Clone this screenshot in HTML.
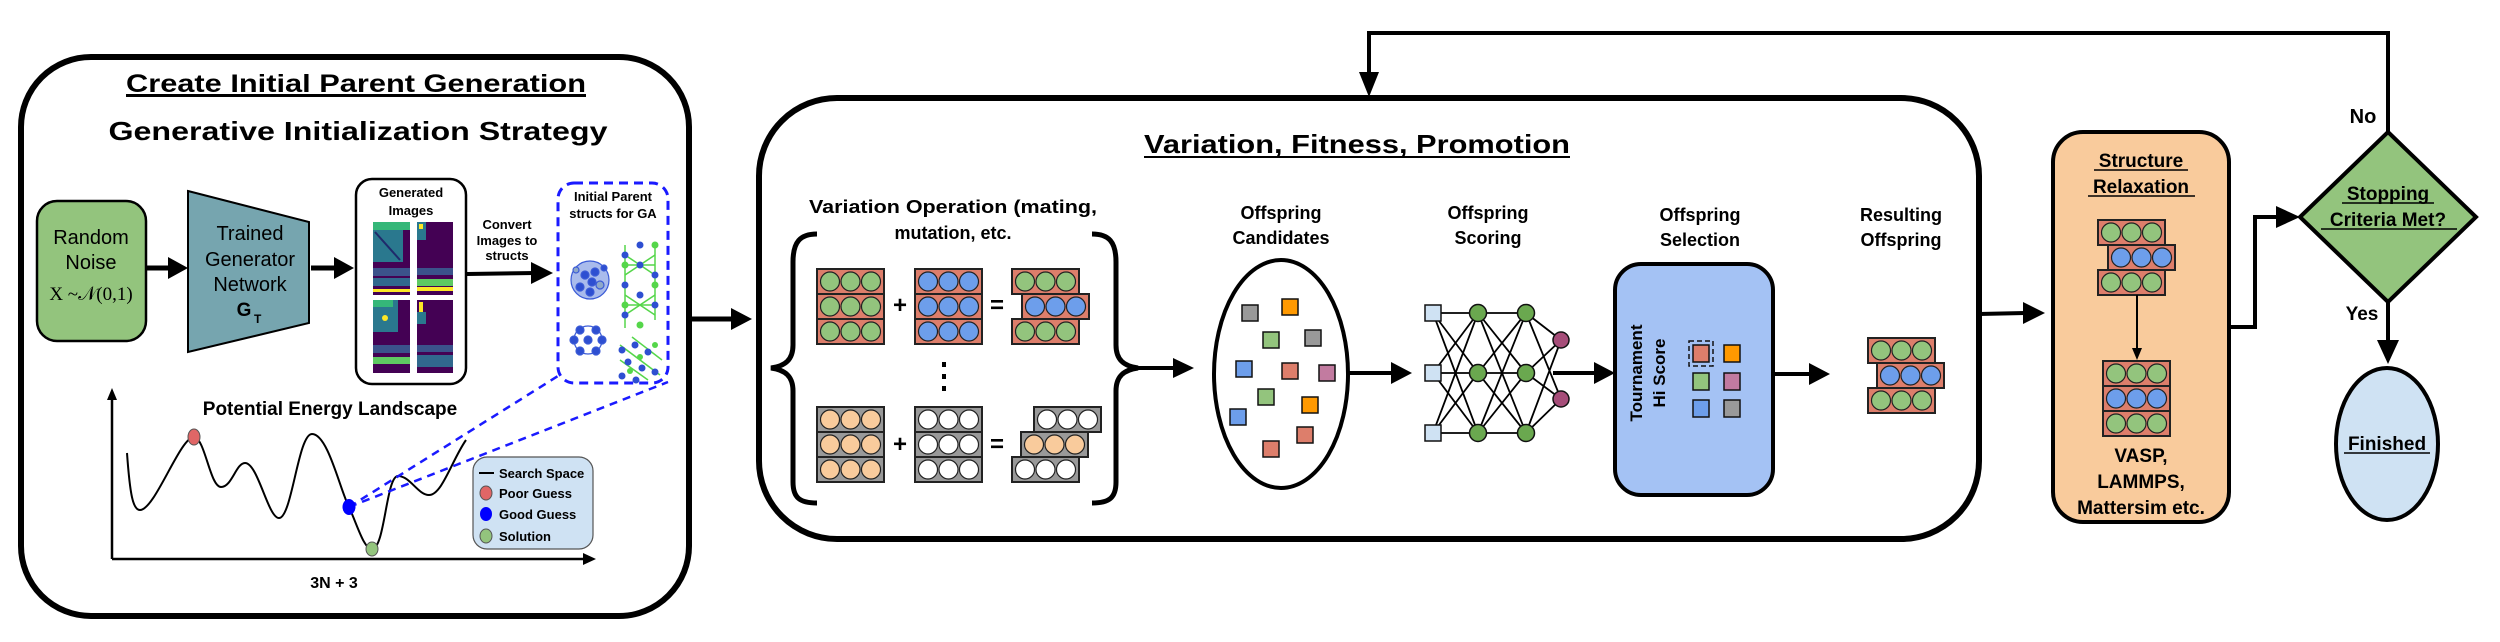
<!DOCTYPE html>
<html><head><meta charset="utf-8"><style>
html,body{margin:0;padding:0;background:#fff;}
svg{display:block;font-family:"Liberation Sans",Arial,sans-serif;}
.b{font-weight:bold;}
</style></head><body>
<svg width="2500" height="642" viewBox="0 0 2500 642" xmlns="http://www.w3.org/2000/svg">
<defs>
<marker id="ah" markerWidth="10" markerHeight="10" refX="9" refY="5" orient="auto" markerUnits="userSpaceOnUse">
</marker>
<g id="rg"><rect width="67" height="25" fill="#dd7e6b" stroke="#222" stroke-width="2"/><circle cx="13" cy="12.5" r="9.5" fill="#93c47d" stroke="#222" stroke-width="1.2"/><circle cx="33.5" cy="12.5" r="9.5" fill="#93c47d" stroke="#222" stroke-width="1.2"/><circle cx="54" cy="12.5" r="9.5" fill="#93c47d" stroke="#222" stroke-width="1.2"/></g>
<g id="rb"><rect width="67" height="25" fill="#dd7e6b" stroke="#222" stroke-width="2"/><circle cx="13" cy="12.5" r="9.5" fill="#6d9eeb" stroke="#222" stroke-width="1.2"/><circle cx="33.5" cy="12.5" r="9.5" fill="#6d9eeb" stroke="#222" stroke-width="1.2"/><circle cx="54" cy="12.5" r="9.5" fill="#6d9eeb" stroke="#222" stroke-width="1.2"/></g>
<g id="go"><rect width="67" height="25" fill="#999" stroke="#222" stroke-width="2"/><circle cx="13" cy="12.5" r="9.5" fill="#f9cb9c" stroke="#222" stroke-width="1.2"/><circle cx="33.5" cy="12.5" r="9.5" fill="#f9cb9c" stroke="#222" stroke-width="1.2"/><circle cx="54" cy="12.5" r="9.5" fill="#f9cb9c" stroke="#222" stroke-width="1.2"/></g>
<g id="gw"><rect width="67" height="25" fill="#999" stroke="#222" stroke-width="2"/><circle cx="13" cy="12.5" r="9.5" fill="#fff" stroke="#222" stroke-width="1.2"/><circle cx="33.5" cy="12.5" r="9.5" fill="#fff" stroke="#222" stroke-width="1.2"/><circle cx="54" cy="12.5" r="9.5" fill="#fff" stroke="#222" stroke-width="1.2"/></g>
</defs>

<!-- ============ LEFT BOX ============ -->
<rect x="21" y="57" width="668" height="559" rx="70" fill="#fff" stroke="#000" stroke-width="6"/>
<text x="356" y="92" font-size="25" class="b" text-anchor="middle" textLength="460" lengthAdjust="spacingAndGlyphs" text-decoration="underline">Create Initial Parent Generation</text>
<line x1="126" y1="96" x2="586" y2="96" stroke="#000" stroke-width="2"/>
<text x="358" y="140" font-size="26" class="b" text-anchor="middle" textLength="499" lengthAdjust="spacingAndGlyphs">Generative Initialization Strategy</text>

<!-- Random noise -->
<rect x="37" y="201" width="109" height="140" rx="20" fill="#93c47d" stroke="#000" stroke-width="2.5"/>
<text x="91" y="244" font-size="20" text-anchor="middle">Random</text>
<text x="91" y="269" font-size="20" text-anchor="middle">Noise</text>
<text x="91" y="300" font-size="19" text-anchor="middle" font-family="Liberation Serif,serif">X ~𝒩(0,1)</text>
<!-- arrow 1 -->
<line x1="146" y1="268" x2="172" y2="268" stroke="#000" stroke-width="5"/>
<polygon points="168,257 188,268 168,279" fill="#000"/>
<!-- Trapezoid -->
<polygon points="188,191 309,222 309,323 188,352" fill="#76a5af" stroke="#000" stroke-width="2"/>
<text x="250" y="240" font-size="20" text-anchor="middle">Trained</text>
<text x="250" y="266" font-size="20" text-anchor="middle">Generator</text>
<text x="250" y="291" font-size="20" text-anchor="middle">Network</text>
<text x="244" y="316" font-size="19" class="b" text-anchor="middle">G</text><text x="254" y="323" font-size="12" class="b">T</text>
<!-- arrow 2 -->
<line x1="311" y1="268" x2="338" y2="268" stroke="#000" stroke-width="5"/>
<polygon points="334,257 354,268 334,279" fill="#000"/>
<!-- Generated images -->
<rect x="356" y="179" width="110" height="205" rx="16" fill="#fff" stroke="#000" stroke-width="2.5"/>
<text x="411" y="197" font-size="13" class="b" text-anchor="middle">Generated</text>
<text x="411" y="215" font-size="13" class="b" text-anchor="middle">Images</text>
<g>
<rect x="373" y="222" width="37" height="73" fill="#440154"/>
<rect x="373" y="222" width="30" height="40" fill="#2a788e"/>
<rect x="373" y="222" width="37" height="8" fill="#35b779"/>
<line x1="375" y1="232" x2="400" y2="260" stroke="#1f2a6b" stroke-width="2"/>
<rect x="373" y="268" width="37" height="8" fill="#3b528b"/>
<rect x="373" y="278" width="37" height="8" fill="#31688e"/>
<rect x="373" y="289" width="37" height="3" fill="#fde725"/>
<rect x="417" y="222" width="36" height="73" fill="#440154"/>
<rect x="417" y="222" width="9" height="18" fill="#2a788e"/>
<rect x="419" y="224" width="4" height="5" fill="#fde725"/>
<rect x="417" y="268" width="36" height="7" fill="#3b528b"/>
<rect x="417" y="279" width="36" height="7" fill="#5ec962"/>
<rect x="417" y="287" width="36" height="4" fill="#fde725"/>
<rect x="373" y="300" width="37" height="73" fill="#440154"/>
<rect x="373" y="300" width="25" height="32" fill="#2a788e"/>
<rect x="373" y="300" width="20" height="7" fill="#35b779"/>
<circle cx="385" cy="318" r="3" fill="#fde725"/>
<rect x="373" y="345" width="37" height="8" fill="#3b528b"/>
<rect x="373" y="357" width="37" height="7" fill="#5ec962"/>
<rect x="417" y="300" width="36" height="73" fill="#440154"/>
<rect x="419" y="302" width="4" height="10" fill="#fde725"/>
<rect x="417" y="312" width="9" height="12" fill="#2a788e"/>
<rect x="417" y="345" width="36" height="7" fill="#3b528b"/>
<rect x="417" y="355" width="36" height="12" fill="#31688e"/>
</g>
<!-- Convert text -->
<text x="507" y="229" font-size="13" class="b" text-anchor="middle">Convert</text>
<text x="507" y="245" font-size="13" class="b" text-anchor="middle">Images to</text>
<text x="507" y="260" font-size="13" class="b" text-anchor="middle">structs</text>
<line x1="467" y1="274" x2="535" y2="273" stroke="#000" stroke-width="4"/>
<polygon points="531,262 553,273 531,284" fill="#000"/>
<!-- dashed box -->
<rect x="558" y="183" width="110" height="200" rx="16" fill="#fff" stroke="#1a1aff" stroke-width="3" stroke-dasharray="9,6"/>
<text x="613" y="201" font-size="13" class="b" text-anchor="middle">Initial Parent</text>
<text x="613" y="218" font-size="13" class="b" text-anchor="middle">structs for GA</text>
<!-- crystals -->
<g stroke="#3b5bd6" stroke-width="1.2">
<circle cx="590" cy="280" r="19" fill="#6f8de0" fill-opacity="0.6"/>
<circle cx="585" cy="275" r="4" fill="#2e4fd1"/><circle cx="595" cy="272" r="4" fill="#2e4fd1"/><circle cx="580" cy="287" r="4" fill="#2e4fd1"/><circle cx="600" cy="285" r="4" fill="#8ea8c8"/><circle cx="590" cy="292" r="4" fill="#2e4fd1"/><circle cx="576" cy="270" r="3" fill="#8ea8c8"/><circle cx="604" cy="268" r="3" fill="#2e4fd1"/><circle cx="592" cy="282" r="4" fill="#2e4fd1"/>
<circle cx="588" cy="340" r="14" fill="none"/>
<circle cx="580" cy="330" r="4" fill="#2e4fd1"/><circle cx="596" cy="330" r="4" fill="#2e4fd1"/><circle cx="574" cy="340" r="4" fill="#2e4fd1"/><circle cx="602" cy="340" r="4" fill="#2e4fd1"/><circle cx="580" cy="351" r="4" fill="#2e4fd1"/><circle cx="596" cy="351" r="4" fill="#2e4fd1"/><circle cx="588" cy="340" r="4" fill="#2e4fd1"/>
</g>
<g stroke="#55d64a" stroke-width="1.5">
<line x1="625" y1="245" x2="625" y2="328"/><line x1="655" y1="245" x2="655" y2="320"/>
<line x1="625" y1="255" x2="655" y2="275"/><line x1="625" y1="275" x2="655" y2="255"/><line x1="625" y1="295" x2="655" y2="315"/><line x1="625" y1="315" x2="655" y2="295"/>
<line x1="625" y1="265" x2="655" y2="265"/><line x1="625" y1="305" x2="655" y2="305"/>
</g>
<g fill="#2e4fd1"><circle cx="625" cy="255" r="3.5"/><circle cx="640" cy="265" r="3.5"/><circle cx="655" cy="275" r="3.5"/><circle cx="625" cy="285" r="3.5"/><circle cx="640" cy="295" r="3.5"/><circle cx="655" cy="305" r="3.5"/><circle cx="625" cy="315" r="3.5"/><circle cx="640" cy="245" r="3.5"/></g>
<g fill="#55d64a"><circle cx="655" cy="245" r="3.5"/><circle cx="625" cy="265" r="3.5"/><circle cx="655" cy="285" r="3.5"/><circle cx="625" cy="305" r="3.5"/><circle cx="640" cy="325" r="3.5"/></g>
<g stroke="#55d64a" stroke-width="1.5"><line x1="620" y1="345" x2="660" y2="375"/><line x1="620" y1="360" x2="648" y2="380"/><line x1="632" y1="337" x2="662" y2="360"/></g>
<g fill="#2e4fd1"><circle cx="622" cy="350" r="3.5"/><circle cx="635" cy="345" r="3.5"/><circle cx="648" cy="352" r="3.5"/><circle cx="628" cy="362" r="3.5"/><circle cx="642" cy="368" r="3.5"/><circle cx="655" cy="372" r="3.5"/><circle cx="622" cy="376" r="3.5"/><circle cx="636" cy="380" r="3.5"/></g>
<g fill="#55d64a"><circle cx="640" cy="357" r="3"/><circle cx="655" cy="345" r="3"/><circle cx="630" cy="371" r="3"/></g>

<!-- Potential energy plot -->
<line x1="112" y1="559" x2="112" y2="398" stroke="#000" stroke-width="2.5"/>
<polygon points="107,400 112,388 117,400" fill="#000"/>
<line x1="112" y1="559" x2="585" y2="559" stroke="#000" stroke-width="2.5"/>
<polygon points="583,553 596,559 583,565" fill="#000"/>
<text x="330" y="415" font-size="19" class="b" text-anchor="middle">Potential Energy Landscape</text>
<path d="M127,453 C130,495 133,510 140,510 C155,510 180,437 194,437 C205,438 210,487 221,487 C232,487 236,463 245,463 C258,463 268,518 279,518 C292,518 298,434 312,434 C328,434 340,490 349,507 C358,527 364,549 372,549 C385,549 386,476 398,476 C410,476 418,495 429,495 C442,495 452,460 466,440" fill="none" stroke="#000" stroke-width="2"/>
<line x1="349" y1="507" x2="558" y2="376" stroke="#1a1aff" stroke-width="2.5" stroke-dasharray="8,6"/>
<line x1="349" y1="507" x2="668" y2="382" stroke="#1a1aff" stroke-width="2.5" stroke-dasharray="8,6"/>
<ellipse cx="194" cy="437" rx="6" ry="8" fill="#e06666" stroke="#555" stroke-width="1"/>
<ellipse cx="349" cy="507" rx="6.5" ry="8" fill="#0000ff"/>
<ellipse cx="372" cy="549" rx="6" ry="7" fill="#93c47d" stroke="#555" stroke-width="1"/>
<rect x="473" y="457" width="120" height="92" rx="14" fill="#cfe2f3" stroke="#555" stroke-width="1.2"/>
<line x1="479" y1="473" x2="494" y2="473" stroke="#000" stroke-width="2"/>
<text x="499" y="478" font-size="13" class="b">Search Space</text>
<ellipse cx="486" cy="493" rx="6" ry="7" fill="#e06666" stroke="#555" stroke-width="1"/>
<text x="499" y="498" font-size="13" class="b">Poor Guess</text>
<ellipse cx="486" cy="514" rx="6" ry="7" fill="#0000ff"/>
<text x="499" y="519" font-size="13" class="b">Good Guess</text>
<ellipse cx="486" cy="536" rx="6" ry="7" fill="#93c47d" stroke="#555" stroke-width="1"/>
<text x="499" y="541" font-size="13" class="b">Solution</text>
<text x="334" y="588" font-size="16" class="b" text-anchor="middle">3N + 3</text>

<!-- arrow left box -> middle -->
<line x1="689" y1="319" x2="735" y2="319" stroke="#000" stroke-width="5"/>
<polygon points="731,308 752,319 731,330" fill="#000"/>

<!-- ============ MIDDLE BOX ============ -->
<rect x="759" y="98" width="1220" height="441" rx="78" fill="#fff" stroke="#000" stroke-width="6"/>
<text x="1357" y="153" font-size="26" class="b" text-anchor="middle" textLength="426" lengthAdjust="spacingAndGlyphs">Variation, Fitness, Promotion</text>
<line x1="1144" y1="157" x2="1570" y2="157" stroke="#000" stroke-width="2"/>

<!-- feedback loop -->
<polyline points="2388,132 2388,33 1369,33 1369,80" fill="none" stroke="#000" stroke-width="4"/>
<polygon points="1359,72 1379,72 1369,97" fill="#000"/>
<text x="2363" y="123" font-size="20" class="b" text-anchor="middle">No</text>

<text x="953" y="213" font-size="18" class="b" text-anchor="middle" textLength="288" lengthAdjust="spacingAndGlyphs">Variation Operation (mating,</text>
<text x="953" y="239" font-size="18" class="b" text-anchor="middle">mutation, etc.</text>
<!-- braces -->
<path d="M817,234 C800,234 793,242 793,262 L793,345 C793,360 785,366 771,368 C785,370 793,376 793,391 L793,482 C793,498 800,503 817,503" fill="none" stroke="#000" stroke-width="5"/>
<path d="M1092,234 C1109,234 1116,242 1116,262 L1116,345 C1116,360 1124,366 1138,368 C1124,370 1116,376 1116,391 L1116,482 C1116,498 1109,503 1092,503" fill="none" stroke="#000" stroke-width="5"/>
<!-- top group -->
<use href="#rg" x="817" y="269"/><use href="#rg" x="817" y="294"/><use href="#rg" x="817" y="319"/>
<use href="#rb" x="915" y="269"/><use href="#rb" x="915" y="294"/><use href="#rb" x="915" y="319"/>
<use href="#rg" x="1012" y="269"/><use href="#rb" x="1022" y="294"/><use href="#rg" x="1012" y="319"/>
<text x="900" y="313" font-size="24" class="b" text-anchor="middle">+</text>
<text x="997" y="313" font-size="24" class="b" text-anchor="middle">=</text>
<rect x="942" y="362" width="4" height="5" fill="#000"/><rect x="942" y="374" width="4" height="5" fill="#000"/><rect x="942" y="386" width="4" height="5" fill="#000"/>
<!-- bottom group -->
<use href="#go" x="817" y="407"/><use href="#go" x="817" y="432"/><use href="#go" x="817" y="457"/>
<use href="#gw" x="915" y="407"/><use href="#gw" x="915" y="432"/><use href="#gw" x="915" y="457"/>
<use href="#gw" x="1034" y="407"/><use href="#go" x="1021" y="432"/><use href="#gw" x="1012" y="457"/>
<text x="900" y="452" font-size="24" class="b" text-anchor="middle">+</text>
<text x="997" y="452" font-size="24" class="b" text-anchor="middle">=</text>
<!-- arrow brace -> ellipse -->
<line x1="1138" y1="368" x2="1176" y2="368" stroke="#000" stroke-width="4"/>
<polygon points="1173,358 1194,368 1173,378" fill="#000"/>

<!-- candidates -->
<text x="1281" y="219" font-size="18" class="b" text-anchor="middle">Offspring</text>
<text x="1281" y="244" font-size="18" class="b" text-anchor="middle">Candidates</text>
<ellipse cx="1281" cy="374" rx="67" ry="114" fill="#fff" stroke="#000" stroke-width="4"/>
<g stroke="#111" stroke-width="1.5">
<rect x="1242" y="305" width="16" height="16" fill="#999"/>
<rect x="1282" y="299" width="16" height="16" fill="#ff9900"/>
<rect x="1263" y="332" width="16" height="16" fill="#93c47d"/>
<rect x="1305" y="330" width="16" height="16" fill="#999"/>
<rect x="1236" y="361" width="16" height="16" fill="#6d9eeb"/>
<rect x="1282" y="363" width="16" height="16" fill="#dd7e6b"/>
<rect x="1319" y="365" width="16" height="16" fill="#c27ba0"/>
<rect x="1258" y="389" width="16" height="16" fill="#93c47d"/>
<rect x="1302" y="397" width="16" height="16" fill="#ff9900"/>
<rect x="1230" y="409" width="16" height="16" fill="#6d9eeb"/>
<rect x="1297" y="427" width="16" height="16" fill="#dd7e6b"/>
<rect x="1263" y="441" width="16" height="16" fill="#dd7e6b"/>
</g>
<line x1="1348" y1="373" x2="1394" y2="373" stroke="#000" stroke-width="4"/>
<polygon points="1391,362 1412,373 1391,384" fill="#000"/>

<!-- NN -->
<text x="1488" y="219" font-size="18" class="b" text-anchor="middle">Offspring</text>
<text x="1488" y="244" font-size="18" class="b" text-anchor="middle">Scoring</text>
<g stroke="#000" stroke-width="1.8">
<line x1="1433" y1="313" x2="1478" y2="313"/><line x1="1433" y1="313" x2="1478" y2="373"/><line x1="1433" y1="313" x2="1478" y2="433"/>
<line x1="1433" y1="373" x2="1478" y2="313"/><line x1="1433" y1="373" x2="1478" y2="373"/><line x1="1433" y1="373" x2="1478" y2="433"/>
<line x1="1433" y1="433" x2="1478" y2="313"/><line x1="1433" y1="433" x2="1478" y2="373"/><line x1="1433" y1="433" x2="1478" y2="433"/>
<line x1="1478" y1="313" x2="1526" y2="313"/><line x1="1478" y1="313" x2="1526" y2="373"/><line x1="1478" y1="313" x2="1526" y2="433"/>
<line x1="1478" y1="373" x2="1526" y2="313"/><line x1="1478" y1="373" x2="1526" y2="373"/><line x1="1478" y1="373" x2="1526" y2="433"/>
<line x1="1478" y1="433" x2="1526" y2="313"/><line x1="1478" y1="433" x2="1526" y2="373"/><line x1="1478" y1="433" x2="1526" y2="433"/>
<line x1="1526" y1="313" x2="1561" y2="340"/><line x1="1526" y1="313" x2="1561" y2="399"/>
<line x1="1526" y1="373" x2="1561" y2="340"/><line x1="1526" y1="373" x2="1561" y2="399"/>
<line x1="1526" y1="433" x2="1561" y2="340"/><line x1="1526" y1="433" x2="1561" y2="399"/>
</g>
<g stroke="#111" stroke-width="1.5">
<rect x="1425" y="305" width="16" height="16" fill="#cfe2f3"/><rect x="1425" y="365" width="16" height="16" fill="#cfe2f3"/><rect x="1425" y="425" width="16" height="16" fill="#cfe2f3"/>
<circle cx="1478" cy="313" r="8.5" fill="#6aa84f"/><circle cx="1478" cy="373" r="8.5" fill="#6aa84f"/><circle cx="1478" cy="433" r="8.5" fill="#6aa84f"/>
<circle cx="1526" cy="313" r="8.5" fill="#6aa84f"/><circle cx="1526" cy="373" r="8.5" fill="#6aa84f"/><circle cx="1526" cy="433" r="8.5" fill="#6aa84f"/>
<circle cx="1561" cy="340" r="8" fill="#a64d79"/><circle cx="1561" cy="399" r="8" fill="#a64d79"/>
</g>
<line x1="1553" y1="373" x2="1596" y2="373" stroke="#000" stroke-width="4"/>
<polygon points="1594,362 1615,373 1594,384" fill="#000"/>

<!-- Selection -->
<text x="1700" y="221" font-size="18" class="b" text-anchor="middle">Offspring</text>
<text x="1700" y="246" font-size="18" class="b" text-anchor="middle">Selection</text>
<rect x="1615" y="264" width="158" height="231" rx="26" fill="#a4c2f4" stroke="#000" stroke-width="4"/>
<text transform="translate(1642,373) rotate(-90)" font-size="17" class="b" text-anchor="middle">Tournament</text>
<text transform="translate(1665,373) rotate(-90)" font-size="17" class="b" text-anchor="middle">Hi Score</text>
<g stroke="#111" stroke-width="1.5">
<rect x="1689" y="341" width="24" height="25" fill="none" stroke-dasharray="5,3"/>
<rect x="1693" y="345" width="16" height="17" fill="#dd7e6b"/>
<rect x="1724" y="345" width="16" height="17" fill="#ff9900"/>
<rect x="1693" y="373" width="16" height="17" fill="#93c47d"/>
<rect x="1724" y="373" width="16" height="17" fill="#c27ba0"/>
<rect x="1693" y="400" width="16" height="17" fill="#6d9eeb"/>
<rect x="1724" y="400" width="16" height="17" fill="#999"/>
</g>
<line x1="1773" y1="374" x2="1812" y2="374" stroke="#000" stroke-width="4"/>
<polygon points="1809,363 1830,374 1809,385" fill="#000"/>

<!-- Resulting -->
<text x="1901" y="221" font-size="18" class="b" text-anchor="middle">Resulting</text>
<text x="1901" y="246" font-size="18" class="b" text-anchor="middle">Offspring</text>
<use href="#rg" x="1868" y="338"/><use href="#rb" x="1877" y="363"/><use href="#rg" x="1868" y="388"/>

<!-- arrow middle -> orange -->
<line x1="1979" y1="314" x2="2025" y2="313" stroke="#000" stroke-width="4"/>
<polygon points="2023,302 2045,313 2023,324" fill="#000"/>

<!-- ============ ORANGE ============ -->
<rect x="2053" y="132" width="176" height="390" rx="30" fill="#f9cb9c" stroke="#000" stroke-width="4"/>
<text x="2141" y="167" font-size="19" class="b" text-anchor="middle">Structure</text>
<line x1="2094" y1="170" x2="2188" y2="170" stroke="#000" stroke-width="1.5"/>
<text x="2141" y="193" font-size="19" class="b" text-anchor="middle">Relaxation</text>
<line x1="2088" y1="196" x2="2195" y2="196" stroke="#000" stroke-width="1.5"/>
<use href="#rg" x="2098" y="220"/><use href="#rb" x="2108" y="245"/><use href="#rg" x="2098" y="270"/>
<line x1="2137" y1="295" x2="2137" y2="350" stroke="#000" stroke-width="2"/>
<polygon points="2132,348 2142,348 2137,360" fill="#000"/>
<use href="#rg" x="2103" y="361"/><use href="#rb" x="2103" y="386"/><use href="#rg" x="2103" y="411"/>
<text x="2141" y="462" font-size="19" class="b" text-anchor="middle">VASP,</text>
<text x="2141" y="488" font-size="19" class="b" text-anchor="middle">LAMMPS,</text>
<text x="2141" y="514" font-size="19" class="b" text-anchor="middle">Mattersim etc.</text>

<!-- connector orange -> diamond -->
<polyline points="2229,327 2255,327 2255,217 2282,217" fill="none" stroke="#000" stroke-width="4"/>
<polygon points="2276,206 2300,217 2276,228" fill="#000"/>
<!-- diamond -->
<polygon points="2388,132 2476,217 2388,302 2300,217" fill="#93c47d" stroke="#000" stroke-width="4"/>
<text x="2388" y="200" font-size="19" class="b" text-anchor="middle">Stopping</text>
<line x1="2342" y1="203" x2="2434" y2="203" stroke="#000" stroke-width="1.5"/>
<text x="2388" y="226" font-size="19" class="b" text-anchor="middle">Criteria Met?</text>
<line x1="2321" y1="229" x2="2457" y2="229" stroke="#000" stroke-width="1.5"/>
<!-- yes -->
<text x="2362" y="320" font-size="19" class="b" text-anchor="middle">Yes</text>
<line x1="2388" y1="302" x2="2388" y2="345" stroke="#000" stroke-width="4"/>
<polygon points="2377,340 2399,340 2388,364" fill="#000"/>
<ellipse cx="2387" cy="444" rx="51" ry="76" fill="#cfe2f3" stroke="#000" stroke-width="4"/>
<text x="2387" y="450" font-size="19" class="b" text-anchor="middle">Finished</text>
<line x1="2344" y1="453" x2="2430" y2="453" stroke="#000" stroke-width="1.5"/>
</svg>
</body></html>
